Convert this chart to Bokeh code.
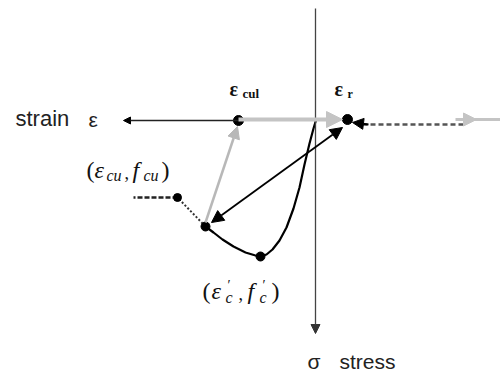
from bokeh.plotting import figure
from bokeh.models import Range1d, Arrow, NormalHead
from bokeh.core.properties import value
from bokeh.embed import file_html
from bokeh.resources import INLINE

# ---- diagram data (pixel-like coordinates, y grows downward) ----
axis_y = 120
axis_x = 315
vert_axis_top = 8
vert_axis_bottom = 333
left_arrow_end = 123

eps_cul = (238, 120)
eps_r = (347, 119)
peak_pt = (260, 256)
cu_pt = (205, 226)
end_pt = (177, 197)
dash_left = 133

curve_x = [205, 213, 222, 233, 245, 255, 260, 266, 272, 279, 286, 293, 299, 304, 309, 313, 316]
curve_y = [226, 232, 239, 246, 252, 255, 256, 254, 249, 240, 227, 208, 187, 164, 143, 128, 118]

labels = ["strain", "ε", "σ", "stress"]

FONT_SANS = "Liberation Sans"
FONT_SERIF = "Liberation Serif"
W, H = 500, 374

p = figure(width=W, height=H, output_backend="svg", toolbar_location=None,
           x_range=Range1d(0, W), y_range=Range1d(H, 0), min_border=0)
p.axis.visible = False
p.grid.visible = False
p.outline_line_color = None
p.background_fill_color = "white"

# vertical stress axis
p.add_layout(Arrow(end=NormalHead(size=9, fill_color="#333333", line_color="#333333"),
                   x_start=axis_x, y_start=vert_axis_top, x_end=axis_x, y_end=vert_axis_bottom,
                   line_color="#444444", line_width=1.3))

# left black strain axis
p.add_layout(Arrow(end=NormalHead(size=7, fill_color="black", line_color="black"),
                   x_start=eps_cul[0], y_start=axis_y, x_end=left_arrow_end, y_end=axis_y,
                   line_color="#222222", line_width=1.6))

# gray reloading arrow along axis
p.add_layout(Arrow(end=NormalHead(size=16, fill_color="#c4c4c4", line_color="#c4c4c4"),
                   x_start=eps_cul[0], y_start=axis_y - 1, x_end=342, y_end=axis_y - 1,
                   line_color="#c4c4c4", line_width=4))

# right: dashed line with black head pointing to eps_r, gray head to the right
p.line([362, 464], [124, 124], line_color="#555555", line_width=2.5, line_dash="5 3")
p.add_layout(Arrow(end=NormalHead(size=13, fill_color="#c4c4c4", line_color="#c4c4c4"),
                   x_start=455, y_start=119, x_end=476, y_end=119,
                   line_color="#c4c4c4", line_width=3))
p.line([474, W], [119, 119], line_color="#c4c4c4", line_width=3)
p.add_layout(Arrow(end=NormalHead(size=11, fill_color="black", line_color="black"),
                   x_start=368, y_start=124, x_end=352, y_end=122,
                   line_color="black", line_width=2))

# gray arrow from compression point up to eps_cul
p.add_layout(Arrow(end=NormalHead(size=12, fill_color="#b8b8b8", line_color="#b8b8b8"),
                   x_start=cu_pt[0], y_start=cu_pt[1] - 4, x_end=eps_cul[0] - 1, y_end=eps_cul[1] + 6,
                   line_color="#b8b8b8", line_width=2.5))

# black double arrow
p.add_layout(Arrow(start=NormalHead(size=12, fill_color="black", line_color="black"),
                   end=NormalHead(size=12, fill_color="black", line_color="black"),
                   x_start=211, y_start=222, x_end=342, y_end=127,
                   line_color="black", line_width=1.8))

# envelope curve
p.line(curve_x, curve_y, line_color="black", line_width=2.2)

# dotted and dashed continuation
p.line([cu_pt[0], end_pt[0]], [cu_pt[1], end_pt[1]], line_color="#333333", line_width=2, line_dash="2 2")
p.line([end_pt[0], dash_left], [end_pt[1], end_pt[1]], line_color="#222222", line_width=2.5, line_dash="5 2")

# dots
p.scatter([eps_cul[0], eps_r[0], peak_pt[0], cu_pt[0], end_pt[0]],
          [eps_cul[1], eps_r[1], peak_pt[1], cu_pt[1], end_pt[1]],
          size=[10, 10, 9, 9, 8], fill_color="black", line_color="black")


def txt(x, base, s, size, font=FONT_SERIF, style="normal", color="#111111"):
    # place by baseline; drawn with "middle" baseline for reliable SVG output
    ymid = base - 0.35 * size
    p.text([x], [ymid], text=[s], text_font=value(font), text_font_size=f"{size}px",
           text_font_style=style, text_baseline="middle", text_align="left",
           text_color=color)


# axis titles
txt(15, 126, labels[0], 22, FONT_SANS, color="#222222")
txt(88, 126, labels[1], 21, FONT_SANS, color="#222222")
txt(307, 368, labels[2], 21, FONT_SANS, color="#222222")
txt(339, 368, labels[3], 21, FONT_SANS, color="#222222")

# eps_cul
txt(229, 95, "ε", 20, FONT_SERIF, "bold")
txt(242, 98, "cul", 13, FONT_SERIF, "bold")
# eps_r
txt(334, 95, "ε", 20, FONT_SERIF, "bold")
txt(347, 98, "r", 12, FONT_SERIF, "bold")

# (eps_cu, f_cu)
txt(86, 178, "(", 24)
txt(94, 178, "ε", 24, style="italic")
txt(106, 181, "cu", 16, style="italic")
txt(124, 178, ",", 18)
txt(132, 178, "f", 24, style="italic")
txt(143, 181, "cu", 16, style="italic")
txt(161, 178, ")", 24)

# (eps'_c, f'_c)
txt(202, 299, "(", 24)
txt(211, 299, "ε", 24, style="italic")
txt(227, 290, "′", 14)
txt(225, 303, "c", 16, style="italic")
txt(238, 299, ",", 18)
txt(247, 299, "f", 24, style="italic")
txt(262, 290, "′", 14)
txt(259, 303, "c", 16, style="italic")
txt(271, 299, ")", 24)

open("out.html", "w").write(file_html(p, INLINE))
